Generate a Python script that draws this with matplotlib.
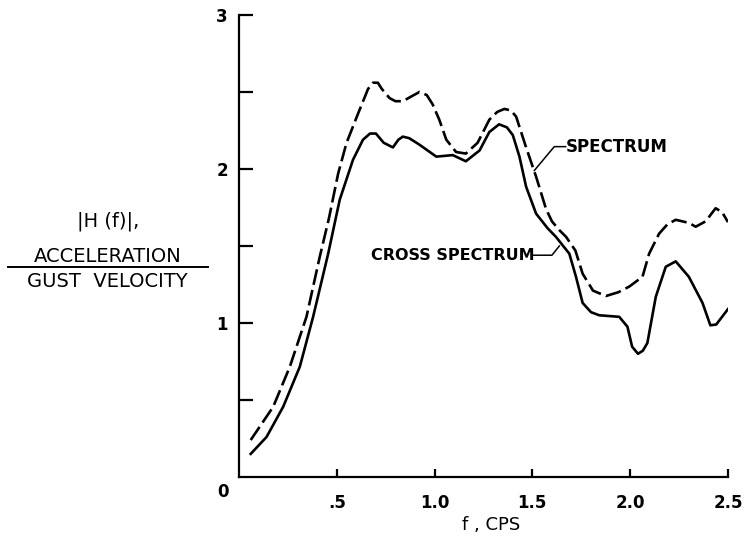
import matplotlib
matplotlib.use("Agg")
import matplotlib.pyplot as plt
from matplotlib.lines import Line2D

# spectrum (dashed)
spec_f = [0.06, 0.175, 0.26, 0.345, 0.413, 0.46, 0.507, 0.55, 0.609, 0.66,
          0.685, 0.71, 0.73, 0.77, 0.80, 0.838, 0.88, 0.923, 0.96, 0.99,
          1.024, 1.06, 1.11, 1.16, 1.22, 1.28, 1.32, 1.357, 1.39, 1.417,
          1.468, 1.519, 1.57, 1.60, 1.64, 1.672, 1.72, 1.757, 1.81, 1.876,
          1.94, 1.995, 2.063, 2.097, 2.148, 2.19, 2.233, 2.30, 2.335, 2.386,
          2.437, 2.47, 2.50]
spec_h = [0.24, 0.456, 0.716, 1.04, 1.43, 1.68, 1.97, 2.17, 2.36, 2.52,
          2.56, 2.56, 2.52, 2.46, 2.44, 2.44, 2.47, 2.50, 2.48, 2.42,
          2.32, 2.19, 2.11, 2.10, 2.17, 2.32, 2.37, 2.39, 2.38, 2.34,
          2.14, 1.95, 1.74, 1.66, 1.60, 1.56, 1.47, 1.32, 1.21, 1.175,
          1.20, 1.236, 1.30, 1.45, 1.58, 1.64, 1.67, 1.65, 1.625, 1.66,
          1.745, 1.72, 1.655]

# cross spectrum (solid)
cross_f = [0.06, 0.141, 0.226, 0.311, 0.379, 0.456, 0.515, 0.583, 0.634, 0.67,
           0.70, 0.74, 0.787, 0.815, 0.838, 0.87, 0.92, 1.009, 1.093, 1.16,
           1.23, 1.28, 1.33, 1.37, 1.40, 1.434, 1.468, 1.519, 1.578, 1.62,
           1.689, 1.723, 1.757, 1.80, 1.842, 1.944, 1.986, 2.01, 2.04, 2.065,
           2.088, 2.131, 2.182, 2.233, 2.30, 2.37, 2.41, 2.44, 2.50]
cross_h = [0.15, 0.26, 0.456, 0.716, 1.04, 1.45, 1.80, 2.06, 2.19, 2.23,
           2.23, 2.17, 2.14, 2.19, 2.21, 2.20, 2.16, 2.08, 2.09, 2.05,
           2.12, 2.24, 2.29, 2.27, 2.22, 2.08, 1.885, 1.71, 1.615, 1.56,
           1.45, 1.30, 1.13, 1.07, 1.05, 1.04, 0.976, 0.846, 0.80, 0.82,
           0.87, 1.17, 1.365, 1.40, 1.30, 1.13, 0.985, 0.99, 1.09]

xtick_vals = [0.5, 1.0, 1.5, 2.0, 2.5]
xtick_labels = ['.5', '1.0', '1.5', '2.0', '2.5']
ytick_vals = [1, 2, 3]
ytick_minor = [0.5, 1.5, 2.5]

plt.rcParams['font.family'] = ['DejaVu Sans']

fig = plt.figure(figsize=(7.48, 5.44), dpi=100)
ax = fig.add_axes([0.3195, 0.1232, 0.6537, 0.8493])

ax.plot(spec_f, spec_h, color='black', lw=1.9, linestyle=(0, (6, 2)))
ax.plot(cross_f, cross_h, color='black', lw=1.9)

ax.set_xlim(0, 2.5)
ax.set_ylim(0, 3)
for side in ('top', 'right'):
    ax.spines[side].set_visible(False)
for side in ('left', 'bottom'):
    ax.spines[side].set_linewidth(1.6)

ax.set_xticks(xtick_vals)
ax.set_xticklabels(xtick_labels)
ax.set_yticks(ytick_vals)
ax.set_yticklabels([str(v) for v in ytick_vals])
ax.set_yticks(ytick_minor, minor=True)
ax.tick_params(axis='y', which='both', direction='in', length=10, width=1.6,
               labelsize=12, pad=8)
ax.tick_params(axis='x', which='both', direction='in', length=6, width=1.6,
               labelsize=12, pad=12)
ax.tick_params(axis='x', which='minor', bottom=False)
for lab in ax.get_xticklabels() + ax.get_yticklabels():
    lab.set_fontweight('bold')

# origin label sits left of the axis
ax.text(-0.08, -0.1, '0', transform=ax.transData, ha='center', va='center',
        fontsize=12, fontweight='bold', clip_on=False)

ax.set_xlabel('f , CPS', fontsize=13, labelpad=6)
ax.xaxis.set_label_coords(0.515, -0.085)

# curve labels with leaders
ax.text(1.67, 2.145, 'SPECTRUM', fontsize=12, fontweight='bold',
        ha='left', va='center')
ax.plot([1.67, 1.612, 1.51], [2.145, 2.145, 1.99], color='black', lw=1.1)
ax.text(0.677, 1.44, 'CROSS SPECTRUM', fontsize=11.5, fontweight='bold',
        ha='left', va='center')
ax.plot([1.50, 1.60, 1.638], [1.44, 1.44, 1.50], color='black', lw=1.1)

# y label as a fraction
fig.text(0.144, 0.594, '|H (f)|,', fontsize=14, ha='center', va='center')
fig.text(0.144, 0.528, 'ACCELERATION', fontsize=14, ha='center', va='center')
fig.add_artist(Line2D([0.011, 0.278], [0.5097, 0.5097], color='black', lw=1.4))
fig.text(0.144, 0.482, 'GUST  VELOCITY', fontsize=14, ha='center', va='center')

fig.savefig('out.png', dpi=100, facecolor='white')
